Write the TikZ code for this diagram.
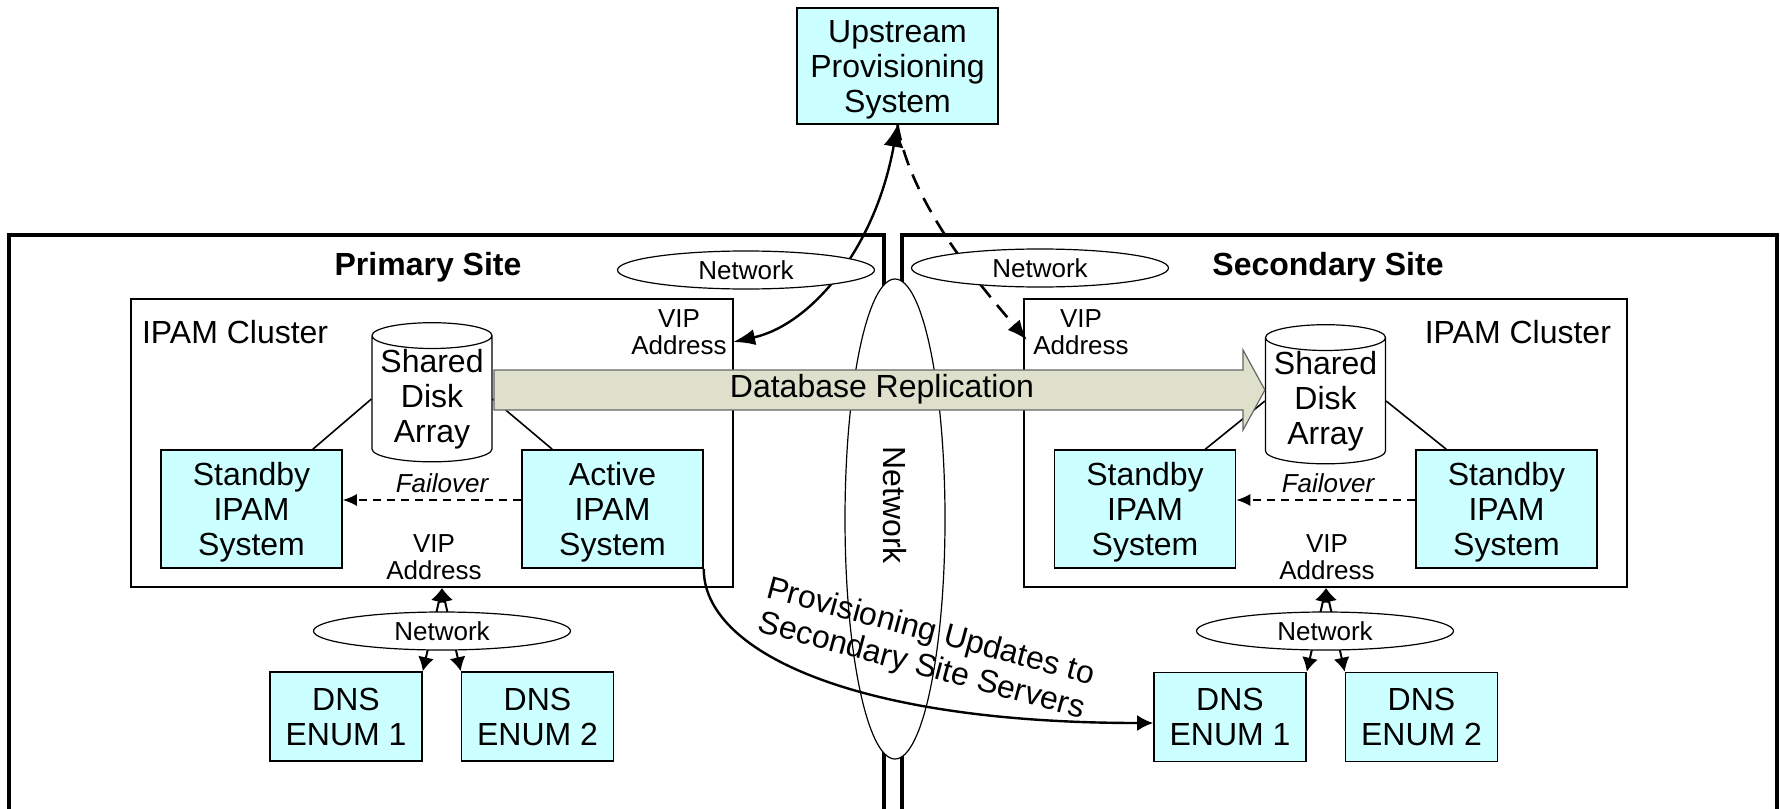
\documentclass[tikz,border=0pt]{standalone}
\usepackage{fontspec}
\setmainfont{Liberation Sans}
\usetikzlibrary{shapes.geometric,arrows.meta}

\definecolor{boxcyan}{HTML}{CCFFFF}
\definecolor{replfill}{HTML}{DEE0CC}
\newcommand\bigtxt{\fontsize{16}{17.5}\selectfont}
\newcommand\smalltxt{\fontsize{13}{13.5}\selectfont}

\tikzset{
  site/.style={draw,line width=2pt},
  cluster/.style={draw,line width=0.8pt},
  sysbox/.style={draw,fill=boxcyan,line width=0.8pt,minimum width=90.5pt,minimum height=59pt,inner sep=0pt,align=center,font=\bigtxt,text depth=0pt},
  dnsbox/.style={sysbox,minimum width=76pt,minimum height=44.5pt},
  net/.style={ellipse,draw,fill=white,line width=0.6pt,minimum width=128.5pt,minimum height=19pt,inner sep=0pt,font=\smalltxt},
  vip/.style={align=center,inner xsep=3pt,inner ysep=0pt,font=\smalltxt},
  disk/.style={cylinder,shape border rotate=90,aspect=0.25,draw,fill=white,line width=0.6pt,minimum width=60pt,minimum height=60pt,inner sep=0pt,align=center,font=\bigtxt},
  link/.style={line width=1.2pt,-{Latex[length=8pt,width=8pt]}},
  dlink/.style={line width=1.2pt,{Latex[length=11pt,width=10pt]}-{Latex[length=11pt,width=8pt]}},
  dashlink/.style={line width=1.3pt,dash pattern=on 8pt off 5pt,-{Latex[length=10pt,width=8pt]}},
  lanlink/.style={line width=1pt,{Latex[length=7pt,width=8pt]}-{Latex[length=7pt,width=8pt]}},
  fail/.style={line width=0.8pt,dash pattern=on 4pt off 3pt,-{Latex[length=7pt,width=6pt]}},
  sitetitle/.style={font=\bigtxt\bfseries},
}

\begin{document}
\begin{tikzpicture}[x=0.5pt,y=-0.5pt]
  \useasboundingbox (0,0) rectangle (1780,808);

  % sites
  \draw[site] (9,235) rectangle (884,840);
  \draw[site] (902,235) rectangle (1777,840);
  \node[ellipse,draw,fill=white,line width=0.6pt,minimum width=240pt,minimum height=50pt,inner sep=0pt,rotate=-90,font=\bigtxt] (wan) at (895,519) {Network\kern14pt};
  \node[sitetitle] (pst) at (428,267) {Primary Site};
  \node[sitetitle] (sst) at (1328,267) {Secondary Site};

  \node[sysbox,minimum width=100.5pt,minimum height=58pt] (up) at (897.5,66) {Upstream\\Provisioning\\System};

  % clusters
  \draw[cluster] (131,299) rectangle (733,587);
  \draw[cluster] (1024,299) rectangle (1627,587);
  \node[font=\bigtxt,anchor=west] (clL) at (135,332) {IPAM Cluster};
  \node[font=\bigtxt,anchor=east] (clR) at (1618,332) {IPAM Cluster};
  \node[vip] (vipL) at (679,332) {VIP\\Address};
  \node[vip] (vipR) at (1081,332) {VIP\\Address};
  \node[vip] (vipLo) at (434,557) {VIP\\Address};
  \node[vip] (vipRo) at (1327,557) {VIP\\Address};

  \node[disk] (diskL) at (432,399) {Shared\\Disk\\Array};
  \node[disk] (diskR) at (1325.5,401) {Shared\\Disk\\Array};

  \node[sysbox] (stbyL) at (251.5,509) {Standby\\IPAM\\System};
  \node[sysbox] (actL) at (612.5,509) {Active\\IPAM\\System};
  \node[sysbox] (stbyR1) at (1145,509) {Standby\\IPAM\\System};
  \node[sysbox] (stbyR2) at (1506.5,509) {Standby\\IPAM\\System};

  \draw[line width=0.8pt] (diskL.west) -- ([xshift=-15pt]stbyL.north east);
  \draw[line width=0.8pt] (diskL.east) -- ([xshift=15.5pt]actL.north west);
  \draw[line width=0.8pt] (diskR.west) -- ([xshift=-15.5pt]stbyR1.north east);
  \draw[line width=0.8pt] (diskR.east) -- ([xshift=15.5pt]stbyR2.north west);

  \draw[fail] ([yshift=4.5pt]actL.west) -- ([yshift=4.5pt]stbyL.east);
  \draw[fail] ([yshift=4.5pt]stbyR2.west) -- ([yshift=4.5pt]stbyR1.east);
  \node[font=\smalltxt\itshape] (fL) at (442,483) {Failover};
  \node[font=\smalltxt\itshape] (fR) at (1328,483) {Failover};

  % replication
  \filldraw[fill=replfill,draw=black!60,line width=0.6pt] (494,370) -- (1243,370) -- (1243,350) -- (diskR.west |- 0,390) -- (1243,430) -- (1243,410) -- (494,410) -- cycle;
  \node[font=\bigtxt] (repl) at (882,389) {Database Replication};

  % upstream
  \draw[dlink] (up.south) .. controls (875,250) and (810,325) .. ([yshift=-5pt]vipL.east);
  \draw[dashlink] (up.south) .. controls (910,200) and (975,280) .. ([yshift=-4pt]vipR.west);
  \node[net] (netL) at (746,270) {Network};
  \node[net] (netR) at (1040,268) {Network};

  % DNS servers
  \node[dnsbox] (dnsL1) at (346,716.5) {DNS\\ENUM 1};
  \node[dnsbox] (dnsL2) at (537.5,716.5) {DNS\\ENUM 2};
  \node[dnsbox] (dnsR1) at (1230,717) {DNS\\ENUM 1};
  \node[dnsbox] (dnsR2) at (1421.5,717) {DNS\\ENUM 2};
  \coordinate (vtL) at (442,588);
  \coordinate (vtR) at (1326,588);
  \draw[lanlink] (dnsL1.north east) -- (vtL);
  \draw[lanlink] (dnsL2.north west) -- (vtL);
  \draw[lanlink] (dnsR1.north east) -- (vtR);
  \draw[lanlink] (dnsR2.north west) -- (vtR);
  \node[net] (lanL) at (442,631) {Network};
  \node[net] (lanR) at (1325,631) {Network};

  \draw[link] (actL.south east) .. controls (703,650) and (850,723) .. ([yshift=-3pt]dnsR1.west);
  \node[font=\bigtxt,align=center,rotate=-15] (prov) at (926,650) {Provisioning Updates to\\Secondary Site Servers};
\end{tikzpicture}
\end{document}
